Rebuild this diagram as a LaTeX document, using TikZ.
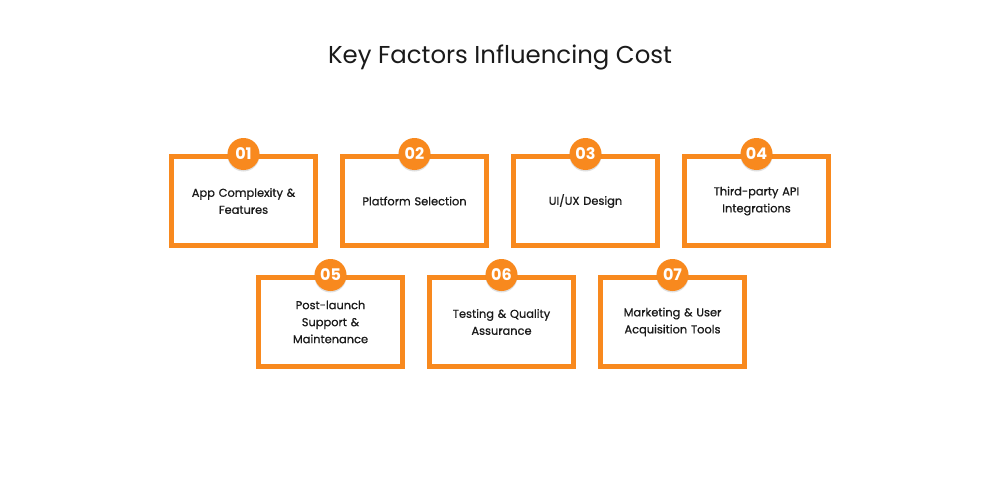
\documentclass[tikz,border=0pt]{standalone}
\usepackage{fontspec}
\setmainfont{Poppins}
\newfontfamily\medfont[FakeBold=0.8]{Poppins}
\usetikzlibrary{shadows}
\definecolor{orng}{HTML}{F8891E}
\definecolor{txt}{HTML}{1A1A1A}
\begin{document}
\begin{tikzpicture}[x=1pt,y=-1pt,
  card/.style={draw=orng, line width=5pt, fill=white, minimum width=144pt, minimum height=89pt, inner sep=0pt, align=center, text width=120pt, font=\medfont\fontsize{11.4}{17}\selectfont, text=txt},
  badge/.style={circle, fill=orng, minimum size=32pt, inner sep=0pt, text=white, font=\fontsize{16}{16}\selectfont\bfseries, drop shadow={shadow xshift=0pt, shadow yshift=-1.5pt, opacity=0.25}},
  title/.style={font=\fontsize{24.4}{30}\selectfont, text=txt}]
\useasboundingbox (0,0) rectangle (1000,500);
\fill[white] (0,0) rectangle (1000,500);
\node[title] (t) at (500,57) {Key Factors Influencing Cost};
\node[card] (c1) at (243.5,201) {App Complexity \&\\Features};
\node[card] (c2) at (414.5,201) {Platform Selection};
\node[card] (c3) at (585.5,201) {UI/UX Design};
\node[card] (c4) at (756.5,201) {Third-party API\\Integrations};
\node[card] (c5) at (330.5,322) {Post-launch\\Support \&\\Maintenance};
\node[card] (c6) at (501.5,322) {Testing \& Quality\\Assurance};
\node[card] (c7) at (672.5,322) {Marketing \& User\\Acquisition Tools};
\foreach \i/\n in {1/01,2/02,3/03,4/04,5/05,6/06,7/07}{
  \node[badge] (b\i) at (c\i.north) {\n};
}
\end{tikzpicture}
\end{document}
